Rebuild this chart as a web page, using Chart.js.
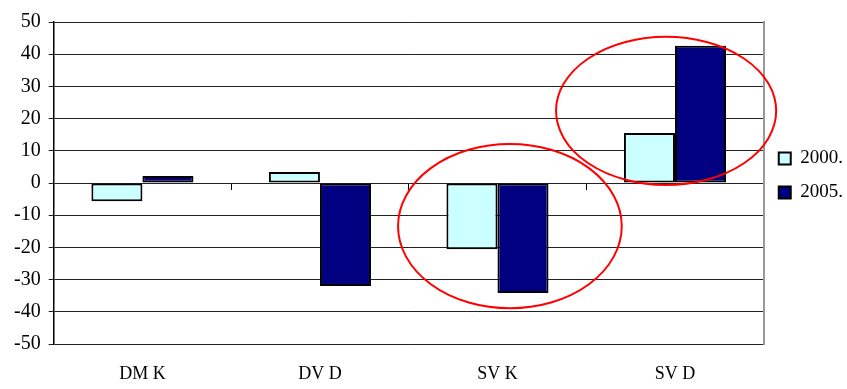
<!DOCTYPE html>
<html lang="hr">
<head>
    <meta charset="UTF-8">
    <title>DM K / DV D / SV K / SV D</title>
    <style>
        body {
            margin: 0;
            padding: 0;
            background-color: #ffffff;
        }

        .chart-container {
            position: relative;
            width: 847px;
            height: 389px;
        }
    </style>
</head>
<body>
    <div class="chart-container">
        <canvas id="barChart"></canvas>
    </div>

    <script src="https://cdn.jsdelivr.net/npm/chart.js"></script>
    <script>
        // Podaci
        const categories = ['DM K', 'DV D', 'SV K', 'SV D'];
        const values2000 = [-5.7, 3.4, -20.6, 15.5];
        const values2005 = [2.2, -32, -34.2, 42.6];
        const seriesLabels = ['2000.', '2005.'];
        const yTicks = [-50, -40, -30, -20, -10, 0, 10, 20, 30, 40, 50];

        // Crveni krugovi (u jedinicama kategorije i vrijednosti)
        const ellipseCats = [2.07, 2.95];
        const ellipseValues = [-13.4, 22.4];
        const ellipseCatRadius = [0.63, 0.62];
        const ellipseValueRadius = [25.5, 23];

        const serif = "'Liberation Serif', 'Times New Roman', serif";

        const ellipsePlugin = {
            id: 'ellipses',
            afterDraw(chart) {
                const x = chart.scales.x;
                const y = chart.scales.y;
                const ctx = chart.ctx;
                ctx.save();
                ctx.strokeStyle = '#ff0000';
                ctx.lineWidth = 2;
                ellipseCats.forEach((cat, i) => {
                    const cx = x.getPixelForValue(cat);
                    const cy = y.getPixelForValue(ellipseValues[i]);
                    const rx = Math.abs(x.getPixelForValue(cat + ellipseCatRadius[i]) - cx);
                    const ry = Math.abs(y.getPixelForValue(ellipseValues[i] + ellipseValueRadius[i]) - cy);
                    ctx.beginPath();
                    ctx.ellipse(cx, cy, rx, ry, 0, 0, Math.PI * 2);
                    ctx.stroke();
                });
                ctx.restore();
            }
        };

        const ctx = document.getElementById('barChart').getContext('2d');
        const barChart = new Chart(ctx, {
            type: 'bar',
            data: {
                labels: categories,
                datasets: [
                    {
                        label: seriesLabels[0],
                        data: values2000,
                        backgroundColor: '#ccffff',
                        borderColor: '#000000',
                        borderWidth: 2,
                        borderSkipped: false,
                        barPercentage: 1,
                        categoryPercentage: 0.575
                    },
                    {
                        label: seriesLabels[1],
                        data: values2005,
                        backgroundColor: '#000080',
                        borderColor: '#000000',
                        borderWidth: 2,
                        borderSkipped: false,
                        barPercentage: 1,
                        categoryPercentage: 0.575
                    }
                ]
            },
            options: {
                responsive: true,
                maintainAspectRatio: false,
                animation: false,
                layout: {
                    padding: { top: 22, right: -6, bottom: 4, left: 6 }
                },
                plugins: {
                    legend: {
                        position: 'right',
                        align: 'start',
                        fullSize: false,
                        title: {
                            display: true,
                            text: '',
                            font: { size: 10 },
                            padding: { top: 100, bottom: 0 }
                        },
                        labels: {
                            color: '#000000',
                            font: { family: serif, size: 19 },
                            boxWidth: 12,
                            boxHeight: 12,
                            padding: 15
                        }
                    },
                    tooltip: { enabled: false }
                },
                scales: {
                    x: {
                        offset: true,
                        afterFit: axis => { axis.height = 41; },
                        grid: { display: false },
                        border: { display: false },
                        ticks: {
                            color: '#000000',
                            font: { family: serif, size: 18 },
                            padding: 11,
                            maxRotation: 0
                        }
                    },
                    x2: {
                        type: 'category',
                        labels: categories,
                        position: { y: 0 },
                        offset: true,
                        afterFit: axis => { axis.height = 0; },
                        grid: {
                            offset: true,
                            drawOnChartArea: false,
                            tickLength: 7,
                            color: '#000000'
                        },
                        border: { display: false },
                        ticks: { display: false }
                    },
                    y: {
                        min: -50,
                        max: 50,
                        afterBuildTicks: axis => {
                            axis.ticks = yTicks.map(v => ({ value: v }));
                        },
                        grid: {
                            color: '#222222',
                            lineWidth: 1,
                            tickLength: 5
                        },
                        border: { color: '#000000', width: 1.5 },
                        ticks: {
                            color: '#000000',
                            font: { family: serif, size: 20 },
                            padding: 8
                        }
                    },
                    y2: {
                        position: 'right',
                        min: -50,
                        max: 50,
                        afterFit: axis => { axis.width = 0; },
                        grid: { drawOnChartArea: false, drawTicks: false },
                        border: { color: '#999999', width: 2 },
                        ticks: { display: false }
                    }
                }
            },
            plugins: [ellipsePlugin]
        });
    </script>
</body>
</html>
